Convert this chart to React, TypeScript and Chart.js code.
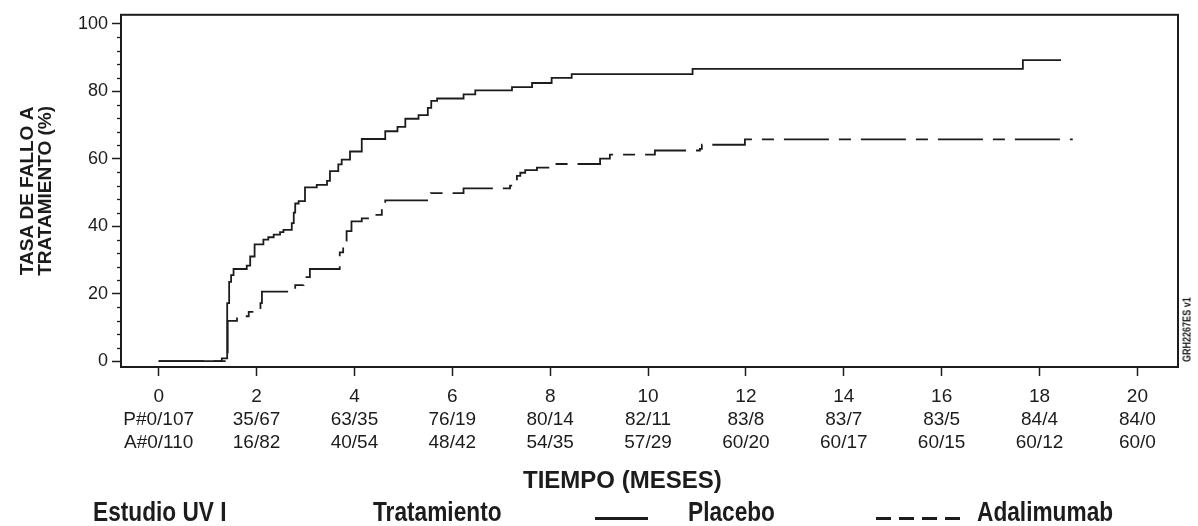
import React, { useEffect, useRef } from 'react';
import { Chart, registerables } from 'chart.js';

Chart.register(...registerables);

// ---- Data ----
const placeboMonths = [0, 1.29, 1.4, 1.44, 1.48, 1.53, 1.8, 1.87, 1.96, 2.14, 2.24, 2.35, 2.48, 2.55, 2.72, 2.76, 2.79, 2.86, 2.99, 3.23, 3.44, 3.5, 3.67, 3.74, 3.91, 4.15, 4.63, 4.88, 5.04, 5.31, 5.5, 5.57, 5.69, 6.23, 6.47, 7.22, 7.63, 8.03, 8.44, 10.91, 17.66, 18.44];
const placeboRate = [0, 0.8, 17.2, 23.5, 25.5, 27.3, 28.3, 31, 34.6, 36.0, 36.7, 37.5, 38.2, 38.9, 40.9, 44, 46.7, 47.4, 51.5, 52.2, 53.4, 56.3, 58.3, 59.7, 62.1, 65.8, 68.1, 69.4, 71.8, 72.9, 75, 77.1, 77.8, 79, 80.2, 81.2, 82.4, 83.9, 85, 86.6, 89.2, 89.2];

const adaMonths = [0, 1.41, 1.6, 1.84, 1.98, 2.08, 2.11, 2.79, 2.96, 3.09, 3.7, 3.77, 3.84, 3.94, 4.15, 4.39, 4.56, 4.63, 5.56, 6.23, 7.18, 7.25, 7.32, 7.39, 7.49, 7.73, 8.07, 9.02, 9.22, 10.14, 11.06, 11.1, 11.98, 18.68];
const adaRate = [0, 11.9, 13.3, 14.6, 15.7, 17.2, 20.6, 22.5, 24.9, 27.3, 32.2, 35.6, 38.5, 41.4, 42.3, 43.3, 45.2, 47.6, 49.8, 51.2, 52, 53.5, 54.9, 55.8, 56.6, 57.3, 58.4, 60, 61.2, 62.4, 62.9, 64.1, 65.7, 65.7];

const xTickValues = [0, 2, 4, 6, 8, 10, 12, 14, 16, 18, 20];
const placeboAtRisk = ['P#0/107', '35/67', '63/35', '76/19', '80/14', '82/11', '83/8', '83/7', '83/5', '84/4', '84/0'];
const adaAtRisk = ['A#0/110', '16/82', '40/54', '48/42', '54/35', '57/29', '60/20', '60/17', '60/15', '60/12', '60/0'];
const yMajorStep = 20;
const yMinorStep = 4;

const yTitle = ['TASA DE FALLO A', 'TRATAMIENTO (%)'];
const xTitle = 'TIEMPO (MESES)';
const studyLabel = 'Estudio UV I';
const treatmentLabel = 'Tratamiento';
const placeboLabel = 'Placebo';
const adaLabel = 'Adalimumab';
const figureCode = 'GRH2267ES v1';

const FONT = "'Liberation Sans', Arial, Helvetica, sans-serif";
const INK = '#1c1c1c';

const framePlugin = {
  id: 'frameAndMinorTicks',
  afterDraw(chart: any) {
    const { ctx, chartArea: a, scales } = chart;
    const y = scales.y;
    ctx.save();
    ctx.strokeStyle = INK;
    ctx.lineWidth = 2;
    ctx.strokeRect(a.left, a.top, a.right - a.left, a.bottom - a.top);
    ctx.lineWidth = 1.3;
    for (let v = yMinorStep; v < y.max; v += yMinorStep) {
      if (v % yMajorStep === 0) continue;
      const py = Math.round(y.getPixelForValue(v)) + 0.5;
      ctx.beginPath();
      ctx.moveTo(a.left - 4, py);
      ctx.lineTo(a.left, py);
      ctx.stroke();
    }
    ctx.restore();
  },
};

export default function App() {
  const ref = useRef<HTMLCanvasElement>(null);

  useEffect(() => {
    if (!ref.current) return;
    const chart = new Chart(ref.current, {
      type: 'line',
      data: {
        datasets: [
          {
            label: placeboLabel,
            data: placeboMonths.map((m, i) => ({ x: m, y: placeboRate[i] })),
            borderColor: INK,
            borderWidth: 1.8,
            stepped: 'before',
            pointRadius: 0,
            fill: false,
          },
          {
            label: adaLabel,
            data: adaMonths.map((m, i) => ({ x: m, y: adaRate[i] })),
            borderColor: INK,
            borderWidth: 1.8,
            borderDash: [45, 10, 12, 10],
            stepped: 'before',
            pointRadius: 0,
            fill: false,
          },
        ],
      },
      options: {
        animation: false,
        responsive: false,
        devicePixelRatio: 1,
        layout: { padding: { top: 7, right: 20, left: 0, bottom: 0 } },
        plugins: { legend: { display: false }, tooltip: { enabled: false } },
        scales: {
          x: {
            type: 'linear',
            min: -0.77,
            max: 20.83,
            afterFit: (s: any) => {
              s.height = 159;
            },
            border: { display: false },
            grid: { drawOnChartArea: false, drawTicks: true, tickLength: 9, tickColor: INK, tickWidth: 1.5 },
            ticks: {
              stepSize: 2,
              includeBounds: false,
              autoSkip: false,
              maxRotation: 0,
              minRotation: 0,
              padding: 9.5,
              color: INK,
              font: { family: FONT, size: 19, lineHeight: 23 / 19 },
              callback: (v: any) => {
                const i = xTickValues.indexOf(Number(v));
                return i < 0 ? '' : [String(xTickValues[i]), placeboAtRisk[i], adaAtRisk[i]];
              },
            },
          },
          y: {
            type: 'linear',
            min: -1.74,
            max: 102.6,
            afterFit: (s: any) => {
              s.width = 121;
            },
            border: { display: false },
            grid: { drawOnChartArea: false, drawTicks: true, tickLength: 9, tickColor: INK, tickWidth: 1.5 },
            ticks: {
              stepSize: yMajorStep,
              includeBounds: false,
              padding: 4,
              color: INK,
              font: { family: FONT, size: 18 },
            },
            title: {
              display: true,
              text: yTitle,
              color: INK,
              font: { family: FONT, size: 19, weight: 'bold', lineHeight: 17.5 / 19 },
              padding: { top: 19.25, bottom: 0 },
            },
          },
        },
      },
      plugins: [framePlugin],
    } as any);
    return () => chart.destroy();
  }, []);

  const legendText = (text: string, left: number) => (
    <div
      style={{
        position: 'absolute',
        left,
        top: 497.8,
        fontFamily: FONT,
        fontWeight: 'bold',
        fontSize: 28,
        lineHeight: '28px',
        color: INK,
        whiteSpace: 'nowrap',
        transform: 'scaleX(0.81)',
        transformOrigin: '0 0',
      }}
    >
      {text}
    </div>
  );

  return (
    <div
      style={{
        position: 'fixed',
        left: 0,
        top: 0,
        width: 1198,
        height: 526,
        background: '#fff',
        overflow: 'hidden',
      }}
    >
      <canvas
        ref={ref}
        width={1198}
        height={526}
        style={{ position: 'absolute', left: 0, top: 0, width: 1198, height: 526 }}
      />
      <div
        style={{
          position: 'absolute',
          left: 523,
          top: 467.7,
          fontFamily: FONT,
          fontWeight: 'bold',
          fontSize: 24,
          lineHeight: '24px',
          color: INK,
          whiteSpace: 'nowrap',
        }}
      >
        {xTitle}
      </div>
      {legendText(studyLabel, 93)}
      {legendText(treatmentLabel, 373)}
      <div style={{ position: 'absolute', left: 595, top: 517, width: 53, height: 3, background: INK }} />
      {legendText(placeboLabel, 688)}
      <div
        style={{
          position: 'absolute',
          left: 876,
          top: 517,
          width: 84,
          height: 3,
          background: `repeating-linear-gradient(to right, ${INK} 0px, ${INK} 15px, transparent 15px, transparent 23px)`,
        }}
      />
      {legendText(adaLabel, 977)}
      <div
        style={{
          position: 'absolute',
          left: 1187,
          top: 362,
          fontFamily: FONT,
          fontWeight: 'bold',
          fontSize: 11,
          lineHeight: '11px',
          color: INK,
          whiteSpace: 'nowrap',
          transformOrigin: '0 0',
          transform: 'rotate(-90deg) scaleX(0.82) translateY(-50%)',
        }}
      >
        {figureCode}
      </div>
    </div>
  );
}
